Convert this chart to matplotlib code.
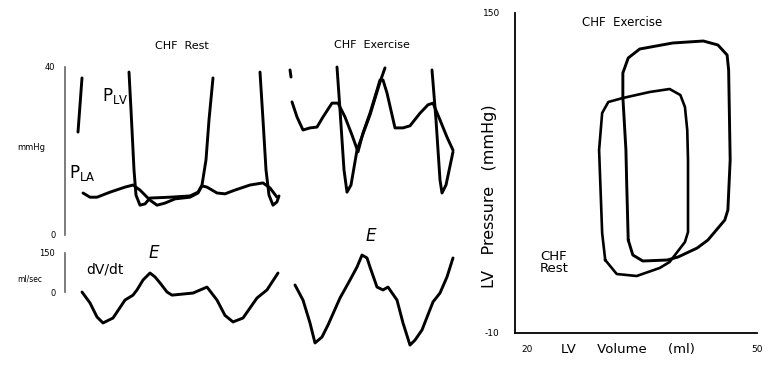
import matplotlib
matplotlib.use("Agg")
import matplotlib.pyplot as plt

W, H = 767, 365

# ---------------- data ----------------
# time axis in arbitrary units (shared by pressure and dV/dt traces)
rest_lv_a_t = [17, 13]
rest_lv_a_p = [37.4, 24.5]
rest_lv_b_t = [64, 66, 69, 71, 75, 80, 85, 105, 125, 133, 137, 141, 144, 148]
rest_lv_b_p = [38.8, 29.8, 15.5, 9.5, 7.1, 7.4, 8.8, 9.0, 9.3, 10.2, 11.9, 17.9, 27.4, 37.4]
rest_lv_c_t = [195, 198, 201, 204, 208, 212, 214]
rest_lv_c_p = [38.8, 27.4, 15.5, 9.5, 7.1, 7.9, 9.3]
rest_la_t = [18, 25, 32, 45, 60, 68, 75, 85, 92, 100, 110, 125, 133, 137, 142, 152, 160,
             170, 185, 198, 205, 212]
rest_la_p = [10.0, 9.0, 9.0, 10.2, 11.4, 11.9, 10.7, 8.3, 7.1, 7.6, 8.6, 9.0, 10.0, 11.7,
             11.4, 10.0, 9.8, 10.7, 11.9, 12.4, 11.2, 9.0]

ex_lv_a_t = [225, 226]
ex_lv_a_p = [39.3, 37.6]
ex_lv_b_t = [272, 275, 279, 282, 286, 292, 305, 315, 320]
ex_lv_b_p = [40.0, 29.8, 15.5, 10.2, 11.9, 20.2, 28.6, 36.4, 39.8]
ex_lv_c_t = [367, 371, 375, 377, 381, 388]
ex_lv_c_p = [39.3, 27.4, 13.1, 10.0, 11.9, 19.8]
ex_la_t = [227, 232, 238, 245, 252, 258, 267, 273, 280, 287, 293, 298, 305, 312, 315, 318,
           322, 330, 338, 345, 355, 363, 368, 375, 382, 388]
ex_la_p = [31.7, 28.1, 25.0, 25.5, 25.7, 28.1, 31.4, 31.4, 28.1, 23.8, 19.8, 24.3, 29.0,
           34.5, 36.9, 36.9, 33.8, 25.5, 25.5, 26.0, 29.0, 31.0, 31.4, 27.4, 23.3, 20.2]

rest_dvdt_t = [17, 25, 32, 38, 48, 60, 68, 72, 78, 85, 90, 95, 102, 107, 128, 142, 152,
               160, 168, 178, 192, 202, 213]
rest_dvdt_v = [0, -42, -96, -119, -100, -31, -12, 8, 46, 73, 58, 35, 0, -12, -4, 19, -31,
               -90, -115, -100, -23, 8, 73]
ex_dvdt_t = [230, 238, 245, 250, 257, 263, 275, 285, 292, 297, 302, 305, 312, 318, 323,
             332, 338, 345, 350, 357, 368, 375, 382, 388]
ex_dvdt_v = [27, -31, -119, -196, -173, -127, -23, 46, 96, 142, 131, 96, 19, 8, 19, -31,
             -119, -204, -185, -146, -38, -4, 58, 131]

# pressure-volume loops
ex_loop_v = [33.2, 33.0, 32.9, 32.5, 32.5, 33.2, 34.7, 39.0, 43.0, 44.9, 46.1, 46.3, 46.5,
             46.2, 45.8, 43.6, 42.2, 39.7, 38.3, 35.1, 33.8, 33.2]
ex_loop_p = [36.5, 65, 81.5, 108, 120, 127.5, 132, 135, 136, 134, 129, 121.5, 76.5, 51.5,
             46.5, 36.5, 32.5, 28, 26.5, 26, 29, 36.5]
rest_loop_v = [30.2, 29.8, 29.4, 29.8, 30.6, 32.5, 36.0, 38.6, 40.0, 40.6, 40.9, 41.0, 41.0,
               40.6, 38.6, 37.3, 34.3, 31.7, 30.2]
rest_loop_p = [26.5, 40, 81.5, 100, 105.5, 107.5, 110.5, 112, 109, 103, 91.5, 76.5, 40.5,
               35.5, 25.5, 22.5, 18.5, 19.5, 26.5]

p_ticks = [0, 40]
dv_ticks = [0, 150]
pv_xticks = [20, 50]
pv_yticks = [-10, 150]

# ---------------- figure ----------------
plt.rcParams['font.family'] = ['DejaVu Sans']
fig = plt.figure(figsize=(W / 100, H / 100), dpi=100)

def ax_px(l, t, r, b):
    return fig.add_axes([l / W, 1 - b / H, (r - l) / W, (b - t) / H])

LW = 2.1
line_kw = dict(color='black', lw=LW, solid_joinstyle='round', solid_capstyle='round')

# pressure panel
axp = ax_px(65, 67, 460, 235)
axp.set_xlim(0, 395)
axp.set_ylim(0, 40)
for t, p in [(rest_lv_a_t, rest_lv_a_p), (rest_lv_b_t, rest_lv_b_p), (rest_lv_c_t, rest_lv_c_p),
             (rest_la_t, rest_la_p), (ex_lv_a_t, ex_lv_a_p), (ex_lv_b_t, ex_lv_b_p),
             (ex_lv_c_t, ex_lv_c_p), (ex_la_t, ex_la_p)]:
    axp.plot(t, p, clip_on=False, **line_kw)
for s in ['top', 'right', 'bottom']:
    axp.spines[s].set_visible(False)
axp.spines['left'].set_color('#666666')
axp.spines['left'].set_linewidth(1.2)
axp.set_xticks([])
axp.set_yticks(p_ticks)
axp.set_yticklabels([str(v) for v in p_ticks])
axp.tick_params(axis='y', length=0, labelsize=6, pad=7)
axp.patch.set_alpha(0)
axp.text(-0.085, 0.52, 'mmHg', transform=axp.transAxes, fontsize=6, ha='center', va='center')
axp.text(37, 32.0, r'$\mathregular{P_{LV}}$', fontsize=12, ha='left', va='baseline')
axp.text(4, 13.6, r'$\mathregular{P_{LA}}$', fontsize=12, ha='left', va='baseline')
axp.text(117, 45.0, 'CHF  Rest', fontsize=8, ha='center', va='center', clip_on=False)
axp.text(307, 45.3, 'CHF  Exercise', fontsize=8, ha='center', va='center', clip_on=False)

# dV/dt panel
axd = ax_px(65, 253, 460, 350)
axd.set_xlim(0, 395)
axd.set_ylim(-223, 150)
axd.plot(rest_dvdt_t, rest_dvdt_v, clip_on=False, **line_kw)
axd.plot(ex_dvdt_t, ex_dvdt_v, clip_on=False, **line_kw)
for s in ['top', 'right', 'bottom']:
    axd.spines[s].set_visible(False)
axd.spines['left'].set_color('#666666')
axd.spines['left'].set_linewidth(1.2)
axd.spines['left'].set_bounds(0, 150)
axd.set_xticks([])
axd.set_yticks(dv_ticks)
axd.set_yticklabels([str(v) for v in dv_ticks])
axd.tick_params(axis='y', length=0, labelsize=6, pad=7)
axd.patch.set_alpha(0)
axd.text(-0.09, 70 / 373 + 223 / 373 - 0.05, 'ml/sec', transform=axd.transAxes, fontsize=5.5,
         ha='center', va='center')
axd.text(40, 85, 'dV/dt', fontsize=10, ha='center', va='center')
axd.text(89, 150, 'E', fontsize=12, style='italic', ha='center', va='center')
axd.text(306, 215, 'E', fontsize=12, style='italic', ha='center', va='center', clip_on=False)

# pressure-volume panel
axv = ax_px(515, 13, 757, 333)
axv.set_xlim(18.43, 50)
axv.set_ylim(-10, 150)
axv.plot(ex_loop_v, ex_loop_p, **line_kw)
axv.plot(rest_loop_v, rest_loop_p, color='black', lw=1.9, solid_joinstyle='round')
for s in ['top', 'right']:
    axv.spines[s].set_visible(False)
for s in ['left', 'bottom']:
    axv.spines[s].set_linewidth(1.3)
axv.set_xticks(pv_xticks)
axv.set_xticklabels([str(v) for v in pv_xticks])
axv.set_yticks(pv_yticks)
axv.set_yticklabels([str(v) for v in pv_yticks])
axv.tick_params(length=0, labelsize=6.5)
axv.tick_params(axis='y', pad=11)
axv.tick_params(axis='x', pad=9)
axv.set_ylabel('LV   Pressure   (mmHg)', fontsize=11.5)
axv.yaxis.set_label_coords(-0.075, 0.428)
axv.text((628 - 515) / 242, -(349 - 333) / 320, 'LV     Volume     (ml)', transform=axv.transAxes,
         fontsize=9.5, ha='center', va='center')
axv.text((622 - 515) / 242, (333 - 22) / 320, 'CHF  Exercise', transform=axv.transAxes,
         fontsize=8.5, ha='center', va='center')
axv.text((540 - 515) / 242, (333 - 262) / 320, 'CHF\nRest', transform=axv.transAxes,
         fontsize=9.5, ha='left', va='center', linespacing=0.9)

fig.savefig('out.png', dpi=100)
